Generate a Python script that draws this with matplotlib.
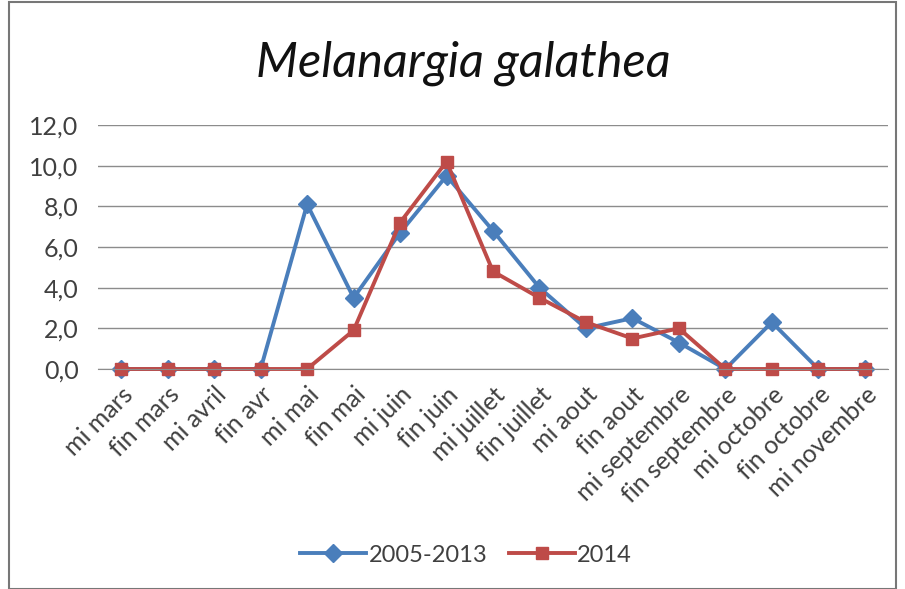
import matplotlib.pyplot as plt
import numpy as np
from matplotlib.patches import Rectangle

# data ------------------------------------------------------------
periods = ['mi mars', 'fin mars', 'mi avril', 'fin avr', 'mi mai', 'fin mai',
           'mi juin', 'fin juin', 'mi juillet', 'fin juillet', 'mi aout',
           'fin aout', 'mi septembre', 'fin septembre', 'mi octobre',
           'fin octobre', 'mi novembre']
moy_2005_2013 = [0, 0, 0, 0, 8.1, 3.5, 6.7, 9.5, 6.8, 4.0, 2.0, 2.5, 1.3, 0, 2.3, 0, 0]
an_2014 = [0, 0, 0, 0, 0, 1.9, 7.2, 10.2, 4.8, 3.5, 2.3, 1.5, 2.0, 0, 0, 0, 0]
yticks = [0, 2, 4, 6, 8, 10, 12]

blue = '#4A7EBB'
red = '#BE4B48'
txt = '#404040'

plt.rcParams['font.family'] = ['Lato', 'DejaVu Sans']

fig = plt.figure(figsize=(9.05, 5.89), dpi=100)
ax = fig.add_axes([98/905, 1-369/589, (888-98)/905, (369-125)/589])

x = np.arange(len(periods))
ax.plot(x, moy_2005_2013, color=blue, lw=2.8, marker='D', ms=9, label='2005-2013')
ax.plot(x, an_2014, color=red, lw=2.8, marker='s', ms=8.5, label='2014')

ax.set_xlim(-0.5, len(periods) - 0.5)
ax.set_ylim(0, 12)
ax.set_yticks(yticks)
ax.set_yticklabels([f'{v:.1f}'.replace('.', ',') for v in yticks], fontsize=18, color=txt)
ax.set_xticks(x)
ax.set_xticklabels(periods, rotation=45, ha='right', rotation_mode='anchor',
                   fontsize=18, color=txt)
ax.tick_params(length=0)
ax.tick_params(axis='y', pad=14)
ax.tick_params(axis='x', pad=10)
ax.grid(axis='y', color='#8c8c8c', lw=1)
ax.set_axisbelow(True)
for s in ['top', 'right', 'left']:
    ax.spines[s].set_visible(False)
ax.spines['bottom'].set_color('#8c8c8c')
for l in ax.lines:
    l.set_clip_on(False)

fig.text(463/905, 1-63/589, 'Melanargia galathea', fontsize=35, style='italic',
         ha='center', va='center', color='#111111')
fig.legend(loc='center', bbox_to_anchor=(466/905, 1-555/589), ncol=2, frameon=False,
           fontsize=17, handlelength=2.8, columnspacing=0.9, handletextpad=0.1,
           labelcolor=txt)

fig.patches.append(Rectangle((9/905, 0), 1-18/905, 1-2/589, transform=fig.transFigure,
                             fill=False, edgecolor='#777777', lw=1.5))

fig.savefig('out.png', dpi=100)
